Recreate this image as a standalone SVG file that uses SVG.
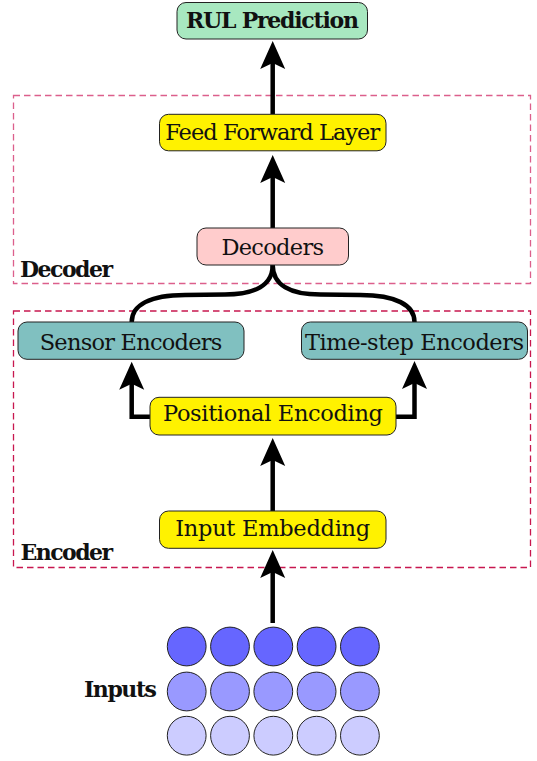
<svg xmlns="http://www.w3.org/2000/svg" width="537" height="761" viewBox="0 0 537 761">
<style>
  .box { stroke: #222; stroke-width: 1; }
  .yellow { fill: #fff200; }
  .teal { fill: #80c0c0; }
  .pink { fill: #ffcccc; }
  .green { fill: #a8e8c0; }
  .lbl { font-family: "DejaVu Serif", "Liberation Serif", serif; font-size: 22.5px; fill: #111; text-anchor: middle; }
  .bold { font-family: "DejaVu Serif", "Liberation Serif", serif; font-size: 22px; font-weight: bold; fill: #111; }
  .conn { fill: none; stroke: #000; stroke-width: 4.5; stroke-linejoin: miter; }
  .c1 { fill: #6666ff; stroke: #222; stroke-width: 1; }
  .c2 { fill: #9999ff; stroke: #222; stroke-width: 1; }
  .c3 { fill: #ccccff; stroke: #222; stroke-width: 1; }
</style>
<defs>
  <marker id="arr" markerUnits="userSpaceOnUse" viewBox="0 -13 30 26" refX="8" refY="0" markerWidth="30" markerHeight="26" orient="auto">
    <path d="M28,0 L0,-12.5 L6,0 L0,12.5 Z" fill="#000"/>
  </marker>
</defs>
<rect width="537" height="761" fill="#fff"/>

<g id="decoder-group">
  <rect x="13.5" y="95.5" width="517" height="188" fill="none" stroke="#dc5f8c" stroke-width="1.3" stroke-dasharray="6.5 4"/>
  <text class="bold" x="20" y="277" textLength="93">Decoder</text>
</g>
<g id="encoder-group">
  <rect x="13.5" y="311" width="517" height="256.5" fill="none" stroke="#c8174f" stroke-width="1.3" stroke-dasharray="6.5 4"/>
  <text class="bold" x="20.5" y="560" textLength="92.5">Encoder</text>
</g>

<g id="connectors">
  <path class="conn" d="M272.7,114 V61" marker-end="url(#arr)"/>
  <path class="conn" d="M272.7,228 V175" marker-end="url(#arr)"/>
  <path class="conn" d="M272.7,265 C272.7,285 255,294.5 225,294.5 L185,295 C150,295 131.7,305 131.7,322"/>
  <path class="conn" d="M272.7,265 C272.7,285 290.4,294.5 320.4,294.5 L360.4,295 C395.4,295 414.5,305 414.5,322"/>
  <path class="conn" d="M150,416.7 H131.7 V381.7" marker-end="url(#arr)"/>
  <path class="conn" d="M396,416.7 H414.5 V381" marker-end="url(#arr)"/>
  <path class="conn" d="M272.7,511 V458" marker-end="url(#arr)"/>
  <path class="conn" d="M272.7,623 V570" marker-end="url(#arr)"/>
</g>

<g id="rul">
  <rect class="box green" x="177" y="2.5" width="190.5" height="36.5" rx="9"/>
  <text class="bold" x="272.5" y="27.7" text-anchor="middle" textLength="173">RUL Prediction</text>
</g>
<g id="ffl">
  <rect class="box yellow" x="159.5" y="114.3" width="226.5" height="36.5" rx="9"/>
  <text class="lbl" x="272.7" y="139.5" textLength="215">Feed Forward Layer</text>
</g>
<g id="decoders">
  <rect class="box pink" x="197" y="228" width="151.5" height="37" rx="9"/>
  <text class="lbl" x="272.7" y="255" textLength="102.6">Decoders</text>
</g>
<g id="sensor">
  <rect class="box teal" x="18" y="322" width="226" height="37.3" rx="9"/>
  <text class="lbl" x="131" y="350" textLength="182.6">Sensor Encoders</text>
</g>
<g id="timestep">
  <rect class="box teal" x="301.5" y="322" width="226" height="37.3" rx="9"/>
  <text class="lbl" x="414.5" y="350" textLength="219">Time-step Encoders</text>
</g>
<g id="pe">
  <rect class="box yellow" x="150" y="397.3" width="246" height="37.7" rx="9"/>
  <text class="lbl" x="273" y="420.5" textLength="220">Positional Encoding</text>
</g>
<g id="ie">
  <rect class="box yellow" x="159.5" y="511" width="226.5" height="37.3" rx="9"/>
  <text class="lbl" x="272.7" y="535.5" textLength="195">Input Embedding</text>
</g>

<g id="inputs">
  <text class="bold" x="84" y="697.3" textLength="73">Inputs</text>
  <circle class="c1" cx="186.7" cy="646.5" r="19.4"/>
  <circle class="c1" cx="230" cy="646.5" r="19.4"/>
  <circle class="c1" cx="273.3" cy="646.5" r="19.4"/>
  <circle class="c1" cx="316.6" cy="646.5" r="19.4"/>
  <circle class="c1" cx="359.9" cy="646.5" r="19.4"/>
  <circle class="c2" cx="186.7" cy="691.5" r="19.4"/>
  <circle class="c2" cx="230" cy="691.5" r="19.4"/>
  <circle class="c2" cx="273.3" cy="691.5" r="19.4"/>
  <circle class="c2" cx="316.6" cy="691.5" r="19.4"/>
  <circle class="c2" cx="359.9" cy="691.5" r="19.4"/>
  <circle class="c3" cx="186.7" cy="735.7" r="19.4"/>
  <circle class="c3" cx="230" cy="735.7" r="19.4"/>
  <circle class="c3" cx="273.3" cy="735.7" r="19.4"/>
  <circle class="c3" cx="316.6" cy="735.7" r="19.4"/>
  <circle class="c3" cx="359.9" cy="735.7" r="19.4"/>
</g>
</svg>
